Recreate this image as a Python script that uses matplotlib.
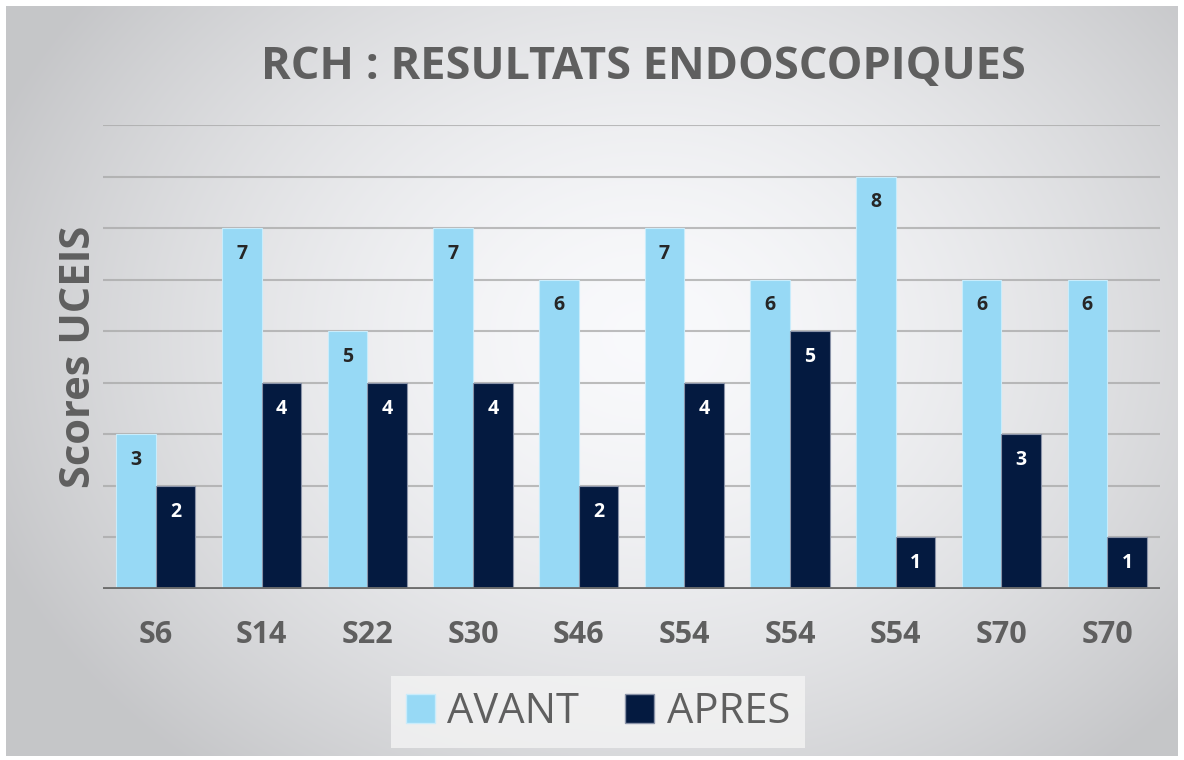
import numpy as np
import matplotlib.pyplot as plt
from matplotlib.patches import Patch

plt.rcParams['font.family'] = ['Open Sans', 'DejaVu Sans']

# données
categories = ['S6', 'S14', 'S22', 'S30', 'S46', 'S54', 'S54', 'S54', 'S70', 'S70']
avant = [3, 7, 5, 7, 6, 7, 6, 8, 6, 6]
apres = [2, 4, 4, 4, 2, 4, 5, 1, 3, 1]

c_avant = '#97d9f5'
c_apres = '#041a40'
gris = '#5f5f5f'

fig = plt.figure(figsize=(11.84, 7.6), dpi=100, facecolor='white')

# fond en dégradé radial
bg = fig.add_axes([6 / 1184, 4 / 760, 1172 / 1184, 750 / 760], zorder=-10)
yy, xx = np.mgrid[0:750, 0:1172]
d = np.sqrt(((xx - 640) / 700) ** 2 + ((yy - 330) / 560) ** 2)
d = np.clip(d, 0, 1)
val = 0.975 - 0.2 * d ** 1.6
img = np.dstack([val, val + 0.003, val + 0.012])
bg.imshow(np.clip(img, 0, 1), aspect='auto', interpolation='bilinear')
bg.axis('off')

ax = fig.add_axes([103 / 1184, 1 - 589 / 760, 1057 / 1184, 464 / 760])
ax.set_facecolor('none')

x = np.arange(len(categories))
w = 0.375
ax.bar(x - w / 2, avant, w, color=c_avant, edgecolor='#c9ecfb', linewidth=0.8, zorder=3)
ax.bar(x + w / 2, apres, w, color=c_apres, edgecolor='#8a93a8', linewidth=0.8, zorder=3)

for i in range(len(categories)):
    ax.text(x[i] - w / 2, avant[i] - 0.5, str(avant[i]), ha='center', va='center',
            fontsize=14, fontweight='bold', color='#262626', zorder=4)
    ax.text(x[i] + w / 2, apres[i] - 0.5, str(apres[i]), ha='center', va='center',
            fontsize=14, fontweight='bold', color='white', zorder=4)

ax.set_xlim(-0.5, len(categories) - 0.5)
ax.set_ylim(0, 9)
for k in range(1, 10):
    ax.axhline(k, color='#a8a8a8', linewidth=1.5, alpha=0.75, zorder=1)
ax.axhline(0, color='#6e6e6e', linewidth=3.5, zorder=5)

for s in ax.spines.values():
    s.set_visible(False)
ax.set_yticks([])
ax.set_xticks(x)
ax.set_xticklabels(categories, fontsize=22, fontweight='bold', color=gris)
ax.tick_params(axis='x', length=0, pad=22)

ax.set_ylabel('Scores UCEIS', fontsize=30, fontweight='bold', color=gris, labelpad=2)

fig.text(643 / 1184, 1 - 68 / 760, 'RCH : RESULTATS ENDOSCOPIQUES', ha='center', va='center',
         fontsize=32.5, fontweight='bold', color=gris)

handles = [Patch(facecolor=c_avant, edgecolor='#c9ecfb', label='AVANT'),
           Patch(facecolor=c_apres, edgecolor='#8a93a8', label='APRES')]
leg = fig.legend(handles=handles, loc='center', bbox_to_anchor=(598 / 1184, 1 - 712 / 760),
                 ncol=2, frameon=True, fancybox=False, fontsize=30, handlelength=0.7,
                 handleheight=0.7, handletextpad=0.3, columnspacing=1.1, borderpad=0.35)
leg.get_frame().set_facecolor('#f4f4f4')
leg.get_frame().set_edgecolor('none')
leg.get_frame().set_alpha(0.8)
for t in leg.get_texts():
    t.set_color(gris)

plt.savefig('out.png', dpi=100)
